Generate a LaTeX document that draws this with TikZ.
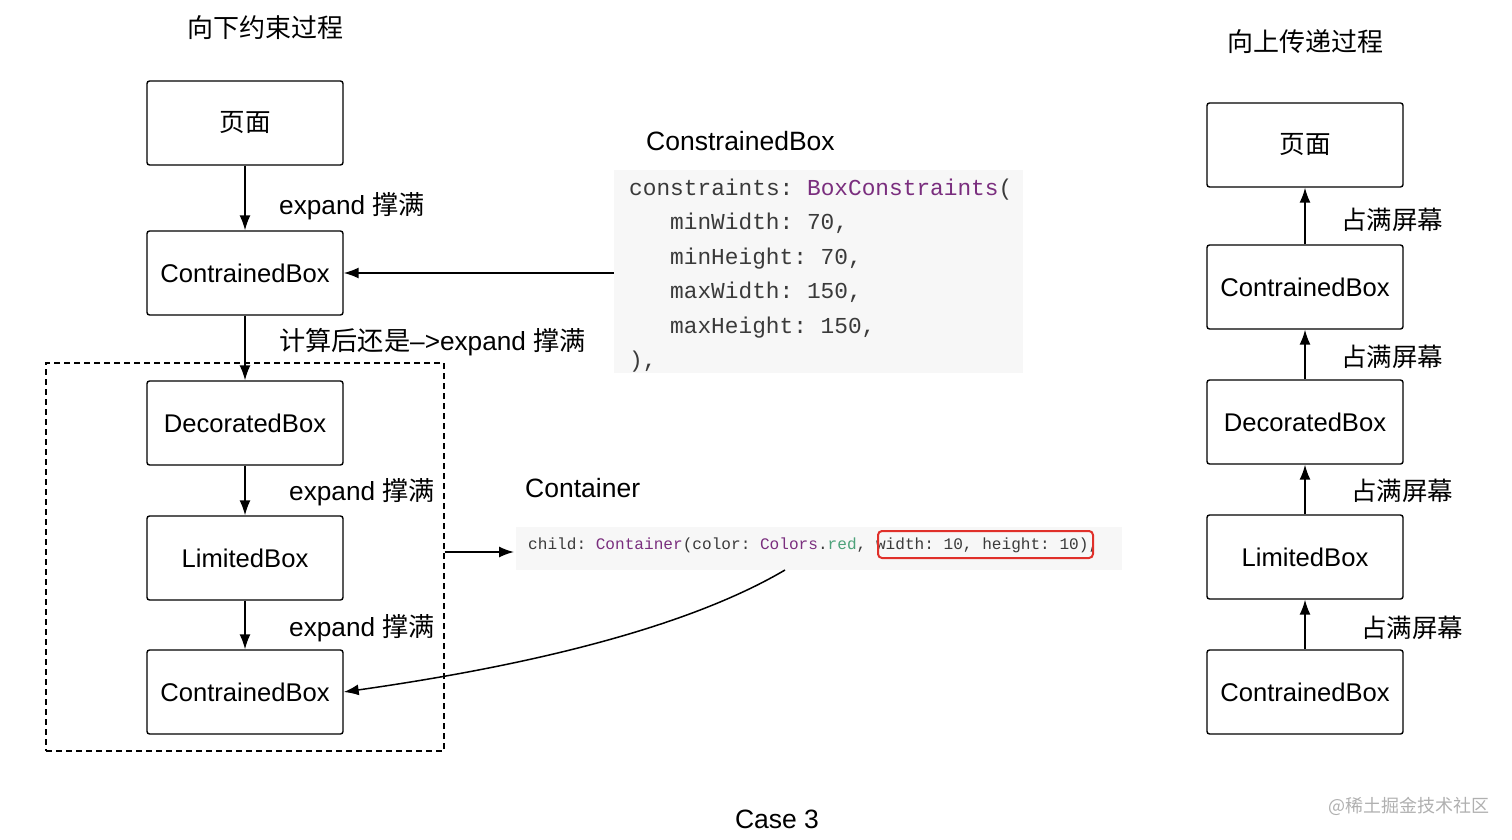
\documentclass[tikz,border=0pt]{standalone}
\usepackage{fontspec}
\setmainfont{Liberation Sans}
\newfontfamily\cjk{Noto Sans CJK SC}
\newfontfamily\codefont{Liberation Mono}
\usetikzlibrary{arrows.meta}
\definecolor{codebg}{HTML}{F7F7F7}
\definecolor{codefg}{HTML}{3A3A3A}
\definecolor{codepurple}{HTML}{7A2E7E}
\definecolor{codegreen}{HTML}{4CA27A}
\definecolor{wmgray}{HTML}{B0B0B0}
\definecolor{hlred}{HTML}{E0302A}
\tikzset{
  box/.style={draw, line width=1.4pt, rounded corners=2.5pt, minimum width=196pt, minimum height=84pt, inner sep=0pt, font=\fontsize{25.6}{30}\selectfont},
  arr/.style={-{Latex[length=15pt,width=11pt]}, line width=1.5pt},
  lbl/.style={anchor=base west, inner sep=0pt, font=\fontsize{26.2}{30}\selectfont},
  ttl/.style={inner sep=0pt, font=\cjk\fontsize{26}{30}\selectfont},
  hdr/.style={anchor=base west, inner sep=0pt, font=\fontsize{26.5}{30}\selectfont},
  codeA/.style={anchor=base west, inner sep=0pt, text=codefg, font=\frenchspacing\codefont\fontsize{22.8}{26}\selectfont},
  codeB/.style={anchor=base west, inner sep=0pt, text=codefg, font=\frenchspacing\codefont\fontsize{16.1}{20}\selectfont},
}
\begin{document}
\begin{tikzpicture}[x=1pt,y=-1pt]
\useasboundingbox (0,0) rectangle (1512,840);
% titles
\node[ttl] (t1) at (265,28) {向下约束过程};
\node[ttl] (t2) at (1305,42) {向上传递过程};
% left column
\node[box] (L1) at (245,123) {\cjk 页面};
\node[box] (L2) at (245,273) {ContrainedBox};
\node[box] (L3) at (245,423) {DecoratedBox};
\node[box] (L4) at (245,558) {LimitedBox};
\node[box] (L5) at (245,692) {ContrainedBox};
\node[draw, dash pattern=on 6pt off 4pt, line width=1.3pt, minimum width=398pt, minimum height=388pt, inner sep=0pt] (grp) at (245,557) {};
\draw[arr] (L1) -- (L2);
\draw[arr] (L2) -- (L3);
\draw[arr] (L3) -- (L4);
\draw[arr] (L4) -- (L5);
\node[lbl] (la1) at (279,214) {expand {\cjk 撑满}};
\node[lbl] (la2) at (279,350) {{\cjk 计算后还是}–>expand {\cjk 撑满}};
\node[lbl] (la3) at (289,500) {expand {\cjk 撑满}};
\node[lbl] (la4) at (289,636) {expand {\cjk 撑满}};
% right column
\node[box] (R1) at (1305,145) {\cjk 页面};
\node[box] (R2) at (1305,287) {ContrainedBox};
\node[box] (R3) at (1305,422) {DecoratedBox};
\node[box] (R4) at (1305,557) {LimitedBox};
\node[box] (R5) at (1305,692) {ContrainedBox};
\draw[arr] (R2) -- (R1);
\draw[arr] (R3) -- (R2);
\draw[arr] (R4) -- (R3);
\draw[arr] (R5) -- (R4);
\node[lbl, font=\cjk\fontsize{25.5}{30}\selectfont] (ra1) at (1341,229) {占满屏幕};
\node[lbl, font=\cjk\fontsize{25.5}{30}\selectfont] (ra2) at (1341,366) {占满屏幕};
\node[lbl, font=\cjk\fontsize{25.5}{30}\selectfont] (ra3) at (1351,500) {占满屏幕};
\node[lbl, font=\cjk\fontsize{25.5}{30}\selectfont] (ra4) at (1361,637) {占满屏幕};
% code block 1
\node[hdr] (h1) at (646,150) {ConstrainedBox};
\node[fill=codebg, minimum width=409pt, minimum height=203pt, inner sep=0pt] (cb1) at (818.5,271.5) {};
\node[codeA] (c1) at (629,195) {constraints: \textcolor{codepurple}{BoxConstraints}(};
\node[codeA] (c2) at (670,229.5) {minWidth: 70,};
\node[codeA] (c3) at (670,264) {minHeight: 70,};
\node[codeA] (c4) at (670,298.5) {maxWidth: 150,};
\node[codeA] (c5) at (670,333) {maxHeight: 150,};
\node[codeA] (c6) at (629,367.5) {),};
\draw[arr] (cb1.west |- L2) -- (L2.east);
% code block 2
\node[hdr] (h2) at (525,497) {Container};
\node[fill=codebg, minimum width=606pt, minimum height=43pt, inner sep=0pt] (cb2) at (819,548.5) {};
\node[codeB] (cl) at (528,549) {child: \textcolor{codepurple}{Container}(color: \textcolor{codepurple}{Colors}.\textcolor{codegreen}{red}, width: 10, height: 10),};
\node[draw=hlred, rounded corners=4pt, line width=2pt, minimum width=215pt, minimum height=27pt, inner sep=0pt] (hl) at (985.5,544.5) {};
\coordinate (c2in) at (514,552);
\draw[arr] (grp.east |- c2in) -- (c2in);
\coordinate (cstart) at (785,570);
\draw[arr] (cstart) .. controls (695,623) and (548,663) .. (L5.east);
% footer
\node[hdr, anchor=base] (case) at (777,828) {Case 3};
\node[anchor=west, inner sep=0pt, text=wmgray, font=\cjk\fontsize{18}{20}\selectfont] (wm) at (1328,806) {@稀土掘金技术社区};
\end{tikzpicture}
\end{document}
